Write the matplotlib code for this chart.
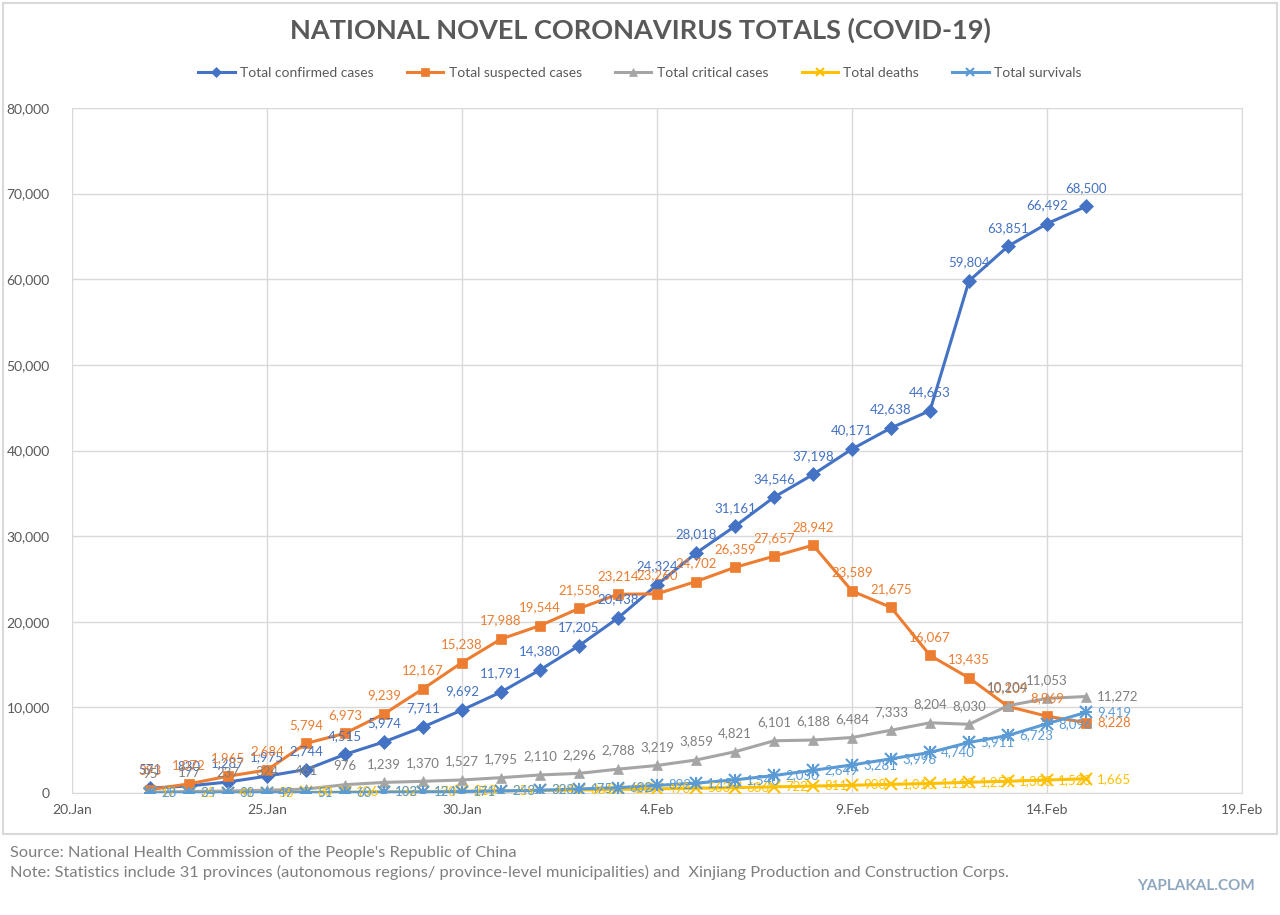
import matplotlib
matplotlib.use("Agg")
import matplotlib.pyplot as plt
from matplotlib.patches import Rectangle
import numpy as np
import pandas as pd

dates = pd.date_range("2020-01-22", "2020-02-15", freq="D")

confirmed = [571, 830, 1287, 1975, 2744, 4515, 5974, 7711, 9692, 11791, 14380, 17205,
             20438, 24324, 28018, 31161, 34546, 37198, 40171, 42638, 44653, 59804,
             63851, 66492, 68500]
suspected = [393, 1072, 1965, 2684, 5794, 6973, 9239, 12167, 15238, 17988, 19544, 21558,
             23214, 23260, 24702, 26359, 27657, 28942, 23589, 21675, 16067, 13435,
             10109, 8969, 8228]
critical = [95, 177, 237, 324, 461, 976, 1239, 1370, 1527, 1795, 2110, 2296, 2788, 3219,
            3859, 4821, 6101, 6188, 6484, 7333, 8204, 8030, 10204, 11053, 11272]
deaths = [17, 25, 41, 56, 80, 106, 132, 170, 213, 259, 304, 361, 425, 490, 563, 636,
          722, 811, 908, 1016, 1113, 1259, 1380, 1523, 1665]
survivals = [28, 34, 38, 49, 51, 60, 103, 124, 171, 243, 328, 475, 632, 892, 1153, 1540,
             2050, 2649, 3281, 3996, 4740, 5911, 6723, 8096, 9419]

series_names = ["Total confirmed cases", "Total suspected cases", "Total critical cases",
                "Total deaths", "Total survivals"]
series_data = [confirmed, suspected, critical, deaths, survivals]
colors = ["#4472C4", "#ED7D31", "#A5A5A5", "#FFC000", "#5B9BD5"]
text_colors = ["#4472C4", "#ED7D31", "#7f7f7f", "#FFC000", "#5B9BD5"]
markers = ["D", "s", "^", "x", "x"]
label_pos = ["above", "above", "above", "right", "right"]
last_right = [False, True, True, True, True]

plt.rcParams["font.family"] = ["Lato", "DejaVu Sans"]

fig = plt.figure(figsize=(12.8, 9.15), dpi=100)
fig.patches.append(Rectangle((0.002, 0.088), 0.996, 0.909, transform=fig.transFigure,
                             fill=False, edgecolor="#d9d9d9", linewidth=1.5))
ax = fig.add_axes([0.05625, 0.1333, 0.9141, 0.7487])

for name, data, c, tc, m, lp, lr in zip(series_names, series_data, colors, text_colors,
                                        markers, label_pos, last_right):
    ms = 7 if m != "x" else 8
    ax.plot(dates, data, color=c, marker=m, markersize=ms, linewidth=2.2,
            markeredgewidth=1.5 if m == "x" else 0.5, label=name, zorder=3)
    if name == "Total survivals":
        ax.plot(dates, data, color=c, marker="+", markersize=8, linewidth=0,
                markeredgewidth=1.5, zorder=3)
    n = len(data)
    for i, (d, v) in enumerate(zip(dates, data)):
        txt = f"{v:,}"
        if lp == "above" and not (lr and i == n - 1):
            ax.annotate(txt, (d, v), xytext=(0, 9), textcoords="offset points",
                        ha="center", va="bottom", fontsize=9.5, color=tc, zorder=4)
        else:
            ax.annotate(txt, (d, v), xytext=(8, 0), textcoords="offset points",
                        ha="left", va="center", fontsize=9.5, color=tc, zorder=4)

ax.set_xlim(pd.Timestamp("2020-01-20"), pd.Timestamp("2020-02-19"))
ax.set_ylim(0, 80000)
xt = pd.date_range("2020-01-20", "2020-02-19", freq="5D")
ax.set_xticks(xt)
ax.set_xticklabels([f"{d.day}.{d.strftime('%b')}" for d in xt])
ax.set_yticks(np.arange(0, 80001, 10000))
ax.set_yticklabels([f"{v:,}" for v in range(0, 80001, 10000)])
ax.grid(True, color="#d9d9d9", linewidth=1)
ax.set_axisbelow(True)
for s in ["top", "left"]:
    ax.spines[s].set_visible(False)
ax.spines["right"].set_color("#d9d9d9")
ax.spines["bottom"].set_color("#d9d9d9")
ax.tick_params(length=0, labelsize=10, colors="#595959", pad=8)
ax.tick_params(axis="y", pad=16)

fig.text(0.5, 0.967, "NATIONAL NOVEL CORONAVIRUS TOTALS (COVID-19)", ha="center",
         va="center", fontsize=19.5, fontweight="bold", color="#595959")
fig.legend(loc="center", bbox_to_anchor=(0.5, 0.92), ncol=5, frameon=False,
           fontsize=10, labelcolor="#595959", handlelength=2.6, columnspacing=2.4,
           handletextpad=0.4, markerscale=0.75)

fig.text(0.008, 0.068, "Source: National Health Commission of the People's Republic of China",
         fontsize=11.8, color="#7f7f7f", va="center")
fig.text(0.008, 0.046, "Note: Statistics include 31 provinces (autonomous regions/ province-level municipalities) and  Xinjiang Production and Construction Corps.",
         fontsize=11.8, color="#7f7f7f", va="center")
fig.text(0.98, 0.032, "YAPLAKAL.COM", ha="right", va="center", fontsize=11,
         fontweight="bold", color="#8fa6bf")

fig.savefig("out.png", dpi=100, facecolor="white")
